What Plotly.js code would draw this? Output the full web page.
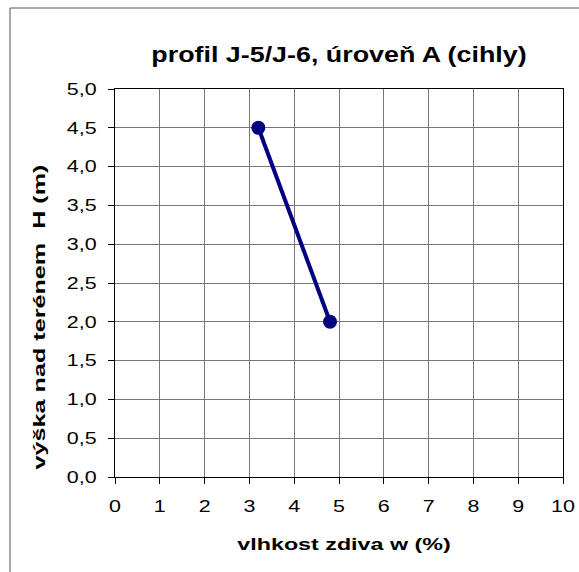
<!DOCTYPE html>
<html><head><meta charset="utf-8">
<script src="https://cdn.plot.ly/plotly-3.0.1.min.js"></script>
<style>html,body{margin:0;padding:0;background:#fff}</style>
</head><body>
<div id="chart" style="width:579px;height:572px"></div>
<script>
const moisture = [3.2, 4.8];
const height = [4.5, 2.0];
const xTicks = [0,1,2,3,4,5,6,7,8,9,10];
const yTicks = [0,0.5,1,1.5,2,2.5,3,3.5,4,4.5,5];

const font = "Arial, 'Liberation Sans', sans-serif";
const trace = {
  x: moisture, y: height, type: 'scatter', mode: 'lines+markers',
  line: {color: '#000080', width: 4},
  marker: {color: '#000080', size: 14},
  showlegend: false, hoverinfo: 'none'
};
const layout = {
  width: 579, height: 572,
  margin: {l: 115, r: 16, t: 89, b: 95},
  paper_bgcolor: '#fff', plot_bgcolor: '#fff',
  separators: ', ',
  font: {family: font, color: '#000', size: 16},
  title: {text: 'profil J-5/J-6, úroveň A (cihly)', font: {family: font, size: 22, color: '#000', weight: 'bold'},
          x: 0.5, xref: 'paper', y: 1 - 54/572, yref: 'container', yanchor: 'middle'},
  xaxis: {range: [0, 10], tickvals: xTicks, ticktext: xTicks.map(String),
          showgrid: true, gridcolor: '#777', gridwidth: 1,
          showline: true, linecolor: '#000', linewidth: 1, mirror: true,
          ticks: 'outside', ticklen: 6, tickcolor: '#000', ticklabelstandoff: 8,
          zeroline: false, tickfont: {size: 16.5},
          title: {text: 'vlhkost zdiva w (%)', font: {size: 16.5, weight: 'bold'}, standoff: 24}},
  yaxis: {range: [0, 5], tickvals: yTicks, tickformat: '.1f',
          showgrid: true, gridcolor: '#777', gridwidth: 1,
          showline: true, linecolor: '#000', linewidth: 1, mirror: true,
          ticks: 'outside', ticklen: 6, tickcolor: '#000', ticklabelstandoff: 8,
          zeroline: false, tickfont: {size: 16.5},
          title: {text: 'výška nad terénem  H (m)', font: {size: 17, weight: 'bold'}, standoff: 20}},
  shapes: [
    {type: 'line', xref: 'paper', yref: 'paper', x0: (10-115)/448, x1: (10-115)/448, y0: (477-8)/388, y1: (477-600)/388, line: {color: '#555', width: 1}},
    {type: 'line', xref: 'paper', yref: 'paper', x0: (10-115)/448, x1: (600-115)/448, y0: (477-8)/388, y1: (477-8)/388, line: {color: '#555', width: 1}}
  ]
};
function stretch(root, sel, factor) {
  root.querySelectorAll(sel).forEach(el => {
    const w = el.getComputedTextLength();
    if (w > 0) {
      el.setAttribute('textLength', (w * factor).toFixed(2));
      el.setAttribute('lengthAdjust', 'spacingAndGlyphs');
    }
  });
}
function moveCenter(root, sel, cx, cy) {
  const el = root.querySelector(sel);
  if (!el) return;
  const svgBox = root.querySelector('svg.main-svg').getBoundingClientRect();
  const bb = el.getBoundingClientRect();
  const dx = cx == null ? 0 : cx - ((bb.left + bb.right) / 2 - svgBox.left);
  const dy = cy == null ? 0 : cy - ((bb.top + bb.bottom) / 2 - svgBox.top);
  const tr = el.getAttribute('transform') || '';
  el.setAttribute('transform', `translate(${dx.toFixed(2)},${dy.toFixed(2)}) ` + tr);
}
Plotly.newPlot('chart', [trace], layout, {staticPlot: true, displayModeBar: false}).then(gd => {
  stretch(gd, 'text.gtitle', 1.22);
  stretch(gd, 'g.xtick text', 1.3);
  stretch(gd, 'g.ytick text', 1.3);
  stretch(gd, 'text.xtitle', 1.41);
  stretch(gd, 'text.ytitle', 1.48);
  moveCenter(gd, 'text.xtitle', 344, null);
  moveCenter(gd, 'text.ytitle', 39, 317);
});
</script>
</body></html>
